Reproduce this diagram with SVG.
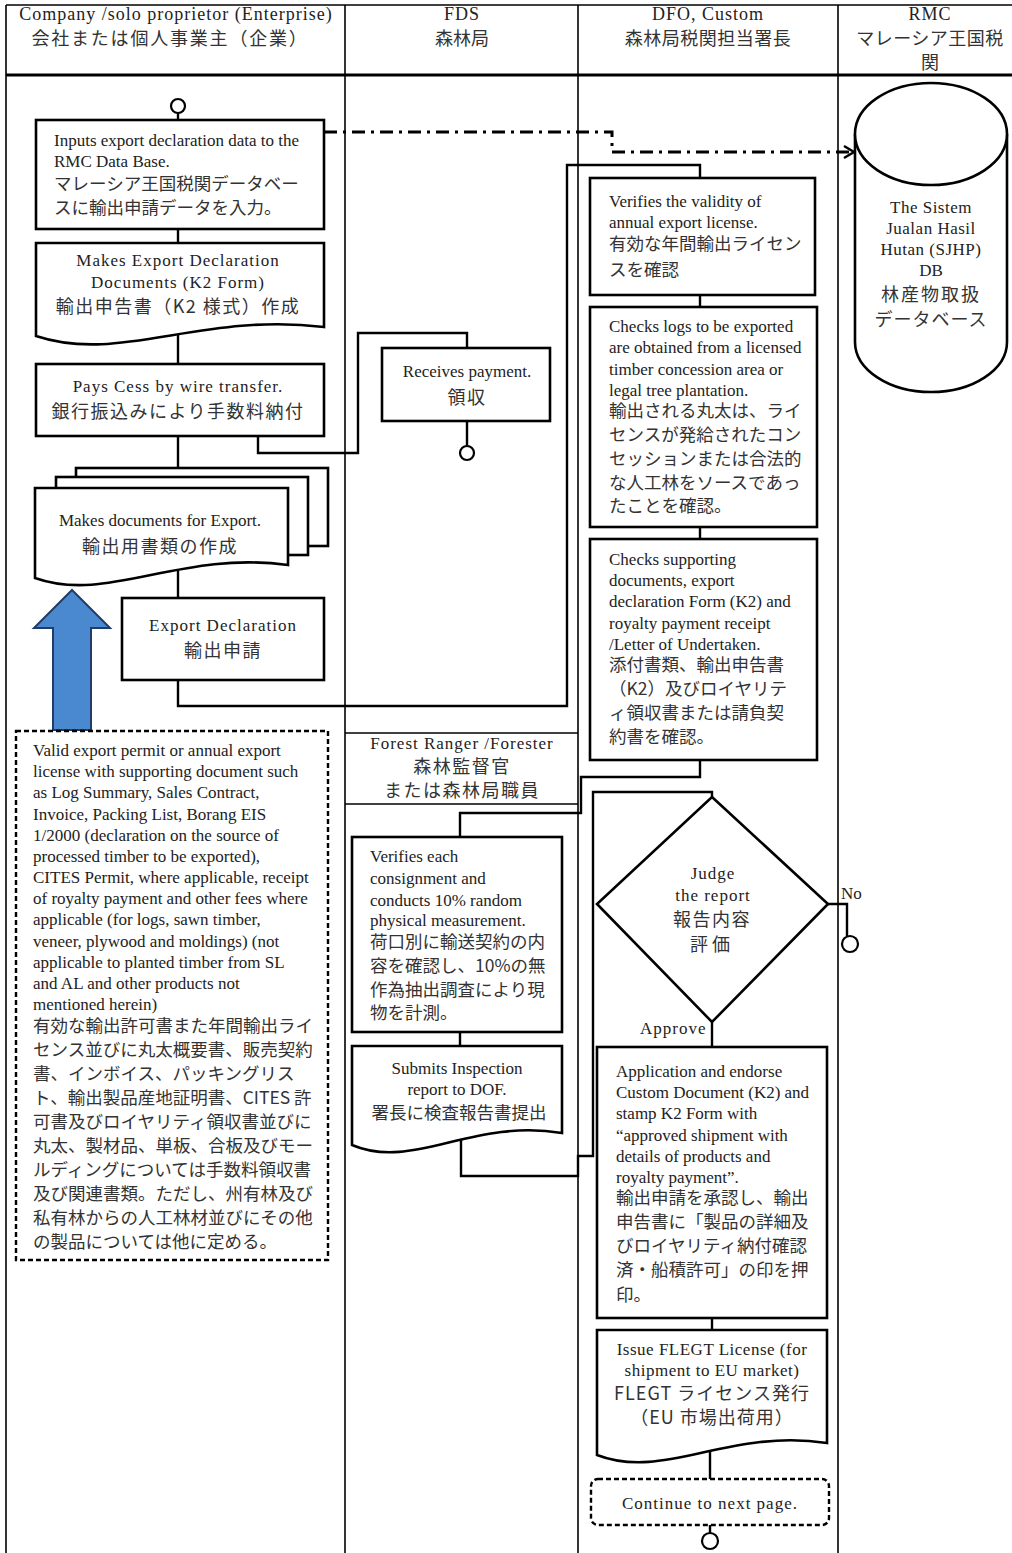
<svg xmlns="http://www.w3.org/2000/svg" width="1012" height="1553" viewBox="0 0 1012 1553">
<style>
.lane{stroke:#000;stroke-width:1.6;fill:none}
.box{fill:#fff;stroke:#000;stroke-width:2.6}
.dash{fill:#fff;stroke:#000;stroke-width:2.4;stroke-dasharray:5 3}
.ln{fill:none;stroke:#000;stroke-width:2.4}
.dd{fill:none;stroke:#000;stroke-width:3;stroke-dasharray:13 6 3 6}
.e{font-family:"Liberation Serif","Noto Sans CJK JP",serif;font-size:17px;fill:#222}
.j{font-family:"Noto Sans CJK JP","Noto Sans CJK SC",sans-serif;font-size:17.5px;fill:#333}
.c{text-anchor:middle}
.ce{letter-spacing:1px}
.cj{font-size:18px;letter-spacing:1.5px}
.h{font-size:18px;letter-spacing:1px}
</style>
<defs>
<marker id="arr" markerUnits="userSpaceOnUse" markerWidth="14" markerHeight="14" refX="12" refY="7" orient="auto">
<path d="M2,1 L12,7 L2,13" fill="none" stroke="#000" stroke-width="2.4"/>
</marker>
</defs>
<rect width="1012" height="1553" fill="#fff"/>
<g id="lanes">
<line class="lane" x1="6" y1="5" x2="1012" y2="5"/>
<line class="lane" x1="6" y1="75" x2="1012" y2="75" style="stroke-width:3"/>
<line class="lane" x1="6" y1="5" x2="6" y2="1553"/>
<line class="lane" x1="345" y1="5" x2="345" y2="1553"/>
<line class="lane" x1="578" y1="5" x2="578" y2="1553"/>
<line class="lane" x1="838" y1="5" x2="838" y2="1553"/>
<line class="lane" x1="345" y1="733" x2="578" y2="733"/>
<line class="lane" x1="345" y1="804" x2="578" y2="804"/>
<text class="e c h" x="176" y="20">Company /solo proprietor (Enterprise)</text>
<text class="j c" x="170" y="45" style="font-size:18px;letter-spacing:1.8px">会社または個人事業主（企業）</text>
<text class="e c h" x="462" y="20">FDS</text>
<text class="j c" x="462" y="45" style="font-size:18px">森林局</text>
<text class="e c h" x="708" y="20">DFO, Custom</text>
<text class="j c" x="708" y="45" style="font-size:18px;letter-spacing:0.5px">森林局税関担当署長</text>
<text class="e c h" x="930" y="20">RMC</text>
<text class="j c" x="930" y="45" style="font-size:18px;letter-spacing:0.5px">マレーシア王国税</text>
<text class="j c" x="930" y="69" style="font-size:18px">関</text>
<text class="e c ce" x="462" y="749">Forest Ranger /Forester</text>
<text class="j c cj" x="462" y="773">森林監督官</text>
<text class="j c cj" x="462" y="797">または森林局職員</text>
</g>
<g id="connectors">
<line class="ln" x1="178" y1="113" x2="178" y2="120"/>
<line class="ln" x1="178" y1="229" x2="178" y2="243"/>
<line class="ln" x1="178" y1="330" x2="178" y2="364"/>
<line class="ln" x1="178" y1="436" x2="178" y2="468"/>
<polyline class="ln" points="258,436 258,453 358,453 358,333 467,333 467,348"/>
<line class="ln" x1="467" y1="421" x2="467" y2="446"/>
<line class="ln" x1="178" y1="570" x2="178" y2="598"/>
<polyline class="ln" points="178,680 178,706 567,706 567,165 700,165 700,178"/>
<polyline class="dd" points="324,132 612,132 612,152 854,152" marker-end="url(#arr)"/>
<line class="ln" x1="700" y1="295" x2="700" y2="307"/>
<line class="ln" x1="700" y1="527" x2="700" y2="539"/>
<polyline class="ln" points="700,760 700,777 581,777 581,813 460,813 460,837"/>
<line class="ln" x1="460" y1="1032" x2="460" y2="1046"/>
<polyline class="ln" points="461,1136 461,1176 578,1176 578,1156 593,1156 593,792 712,792 712,797"/>
<polyline class="ln" points="828,904 847,904 847,936"/>
<line class="ln" x1="712" y1="1022" x2="712" y2="1047"/>
<line class="ln" x1="712" y1="1318" x2="712" y2="1330"/>
<line class="ln" x1="710" y1="1448" x2="710" y2="1479"/>
<line class="ln" x1="710" y1="1525" x2="710" y2="1533"/>
</g>
<g id="start">
<circle cx="178" cy="106" r="7" fill="#fff" stroke="#000" stroke-width="2.2"/>
</g>
<g id="n-input">
<rect class="box" x="36" y="120" width="288" height="109"/>
<text class="e" x="54" y="146">Inputs export declaration data to the</text>
<text class="e" x="54" y="167">RMC Data Base.</text>
<text class="j" x="54" y="190">マレーシア王国税関データベー</text>
<text class="j" x="54" y="214">スに輸出申請データを入力。</text>
</g>
<g id="n-k2">
<path class="box" d="M36,243 H324 V327 C200,312 120,364 36,336 Z"/>
<text class="e c ce" x="178" y="266">Makes Export Declaration</text>
<text class="e c ce" x="178" y="288">Documents (K2 Form)</text>
<text class="j c cj" x="178" y="313">輸出申告書（K2 様式）作成</text>
</g>
<g id="n-cess">
<rect class="box" x="36" y="364" width="288" height="72"/>
<text class="e c ce" x="178" y="392">Pays Cess by wire transfer.</text>
<text class="j c cj" x="178" y="418">銀行振込みにより手数料納付</text>
</g>
<g id="n-docs">
<rect class="box" x="76" y="468" width="252" height="78"/>
<rect class="box" x="56" y="477" width="252" height="78"/>
<path class="box" d="M35,488 H288 V565 C179,550 108,604 35,578 Z"/>
<text class="e c" x="160" y="526">Makes documents for Export.</text>
<text class="j c cj" x="160" y="553">輸出用書類の作成</text>
</g>
<g id="n-expdecl">
<rect class="box" x="122" y="598" width="202" height="82"/>
<text class="e c ce" x="223" y="631">Export Declaration</text>
<text class="j c cj" x="223" y="657">輸出申請</text>
</g>
<g id="n-arrow">
<polygon points="72,590 110,628 91,628 91,730 53,730 53,628 34,628" fill="#4a89cf" stroke="#1f3d66" stroke-width="2"/>
</g>
<g id="n-note">
<rect class="dash" x="16" y="731" width="312" height="529"/>
<text class="e" x="33" y="756">Valid export permit or annual export</text>
<text class="e" x="33" y="777">license with supporting document such</text>
<text class="e" x="33" y="798">as Log Summary, Sales Contract,</text>
<text class="e" x="33" y="820">Invoice, Packing List, Borang EIS</text>
<text class="e" x="33" y="841">1/2000 (declaration on the source of</text>
<text class="e" x="33" y="862">processed timber to be exported),</text>
<text class="e" x="33" y="883">CITES Permit, where applicable, receipt</text>
<text class="e" x="33" y="904">of royalty payment and other fees where</text>
<text class="e" x="33" y="925">applicable (for logs, sawn timber,</text>
<text class="e" x="33" y="947">veneer, plywood and moldings) (not</text>
<text class="e" x="33" y="968">applicable to planted timber from SL</text>
<text class="e" x="33" y="989">and AL and other products not</text>
<text class="e" x="33" y="1010">mentioned herein)</text>
<text class="j" x="33" y="1032">有効な輸出許可書また年間輸出ライ</text>
<text class="j" x="33" y="1056">センス並びに丸太概要書、販売契約</text>
<text class="j" x="33" y="1080">書、インボイス、パッキングリス</text>
<text class="j" x="33" y="1104">ト、輸出製品産地証明書、CITES 許</text>
<text class="j" x="33" y="1128">可書及びロイヤリティ領収書並びに</text>
<text class="j" x="33" y="1152">丸太、製材品、単板、合板及びモー</text>
<text class="j" x="33" y="1176">ルディングについては手数料領収書</text>
<text class="j" x="33" y="1200">及び関連書類。ただし、州有林及び</text>
<text class="j" x="33" y="1224">私有林からの人工林材並びにその他</text>
<text class="j" x="33" y="1248">の製品については他に定める。</text>
</g>
<g id="n-receive">
<rect class="box" x="382" y="348" width="168" height="73"/>
<text class="e c" x="467" y="377">Receives payment.</text>
<text class="j c cj" x="467" y="404">領収</text>
</g>
<g id="end-receive">
<circle cx="467" cy="453" r="7" fill="#fff" stroke="#000" stroke-width="2.2"/>
</g>
<g id="n-verify-license">
<rect class="box" x="590" y="178" width="225" height="117"/>
<text class="e" x="609" y="207">Verifies the validity of</text>
<text class="e" x="609" y="228">annual export license.</text>
<text class="j" x="609" y="250">有効な年間輸出ライセン</text>
<text class="j" x="609" y="276">スを確認</text>
</g>
<g id="n-check-logs">
<rect class="box" x="590" y="307" width="227" height="220"/>
<text class="e" x="609" y="332">Checks logs to be exported</text>
<text class="e" x="609" y="353">are obtained from a licensed</text>
<text class="e" x="609" y="375">timber concession area or</text>
<text class="e" x="609" y="396">legal tree plantation.</text>
<text class="j" x="609" y="417">輸出される丸太は、ライ</text>
<text class="j" x="609" y="441">センスが発給されたコン</text>
<text class="j" x="609" y="465">セッションまたは合法的</text>
<text class="j" x="609" y="489">な人工林をソースであっ</text>
<text class="j" x="609" y="512">たことを確認。</text>
</g>
<g id="n-check-docs">
<rect class="box" x="590" y="539" width="227" height="221"/>
<text class="e" x="609" y="565">Checks supporting</text>
<text class="e" x="609" y="586">documents, export</text>
<text class="e" x="609" y="607">declaration Form (K2) and</text>
<text class="e" x="609" y="629">royalty payment receipt</text>
<text class="e" x="609" y="650">/Letter of Undertaken.</text>
<text class="j" x="609" y="671">添付書類、輸出申告書</text>
<text class="j" x="609" y="695">（K2）及びロイヤリテ</text>
<text class="j" x="609" y="719">ィ領収書または請負契</text>
<text class="j" x="609" y="743">約書を確認。</text>
</g>
<g id="n-verify-consign">
<rect class="box" x="352" y="837" width="210" height="195"/>
<text class="e" x="370" y="862">Verifies each</text>
<text class="e" x="370" y="884">consignment and</text>
<text class="e" x="370" y="906">conducts 10% random</text>
<text class="e" x="370" y="926">physical measurement.</text>
<text class="j" x="370" y="948">荷口別に輸送契約の内</text>
<text class="j" x="370" y="972">容を確認し、10%の無</text>
<text class="j" x="370" y="996">作為抽出調査により現</text>
<text class="j" x="370" y="1019">物を計測。</text>
</g>
<g id="n-report">
<path class="box" d="M352,1046 H562 V1133 C472,1118 413,1171 352,1145 Z"/>
<text class="e c" x="457" y="1074">Submits Inspection</text>
<text class="e c" x="457" y="1095">report to DOF.</text>
<text class="j c" x="459" y="1119">署長に検査報告書提出</text>
</g>
<g id="n-judge">
<polygon class="box" points="712,797 828,904 712,1022 597,904"/>
<text class="e c ce" x="713" y="879">Judge</text>
<text class="e c ce" x="713" y="901">the report</text>
<text class="j c cj" x="712" y="926">報告内容</text>
<text class="j c" x="712" y="951" style="font-size:18px;letter-spacing:4px">評価</text>
<text class="e" x="841" y="899">No</text>
<text class="e ce" x="640" y="1034">Approve</text>
</g>
<g id="end-no">
<circle cx="850" cy="944" r="8" fill="#fff" stroke="#000" stroke-width="2.2"/>
</g>
<g id="n-endorse">
<rect class="box" x="597" y="1047" width="230" height="271"/>
<text class="e" x="616" y="1077">Application and endorse</text>
<text class="e" x="616" y="1098">Custom Document (K2) and</text>
<text class="e" x="616" y="1119">stamp K2 Form with</text>
<text class="e" x="616" y="1141">“approved shipment with</text>
<text class="e" x="616" y="1162">details of products and</text>
<text class="e" x="616" y="1183">royalty payment”.</text>
<text class="j" x="616" y="1204">輸出申請を承認し、輸出</text>
<text class="j" x="616" y="1228">申告書に「製品の詳細及</text>
<text class="j" x="616" y="1252">びロイヤリティ納付確認</text>
<text class="j" x="616" y="1276">済・船積許可」の印を押</text>
<text class="j" x="616" y="1301">印。</text>
</g>
<g id="n-flegt">
<path class="box" d="M597,1330 H827 V1443 C728,1428 664,1481 597,1455 Z"/>
<text class="e c" x="712" y="1355" style="letter-spacing:0.5px">Issue FLEGT License (for</text>
<text class="e c" x="712" y="1376" style="letter-spacing:0.5px">shipment to EU market)</text>
<text class="j c" x="712" y="1400" style="font-size:18px;letter-spacing:1px">FLEGT ライセンス発行</text>
<text class="j c" x="712" y="1424" style="font-size:18px;letter-spacing:1px">（EU 市場出荷用）</text>
</g>
<g id="n-continue">
<rect class="dash" x="591" y="1479" width="238" height="46" rx="7"/>
<text class="e c ce" x="710" y="1509">Continue to next page.</text>
</g>
<g id="end-continue">
<circle cx="710" cy="1541" r="8" fill="#fff" stroke="#000" stroke-width="2.2"/>
</g>
<g id="n-db">
<path class="box" d="M855,134 V342 A76,50 0 0 0 1007,342 V134"/>
<ellipse class="box" cx="931" cy="134" rx="76" ry="51"/>
<text class="e c" x="931" y="213" style="letter-spacing:0.5px">The Sistem</text>
<text class="e c" x="931" y="234" style="letter-spacing:0.5px">Jualan Hasil</text>
<text class="e c" x="931" y="255" style="letter-spacing:0.5px">Hutan (SJHP)</text>
<text class="e c" x="931" y="276">DB</text>
<text class="j c" x="931" y="301" style="font-size:18px;letter-spacing:2px">林産物取扱</text>
<text class="j c" x="931" y="326" style="font-size:18px;letter-spacing:1px">データベース</text>
</g>
</svg>
